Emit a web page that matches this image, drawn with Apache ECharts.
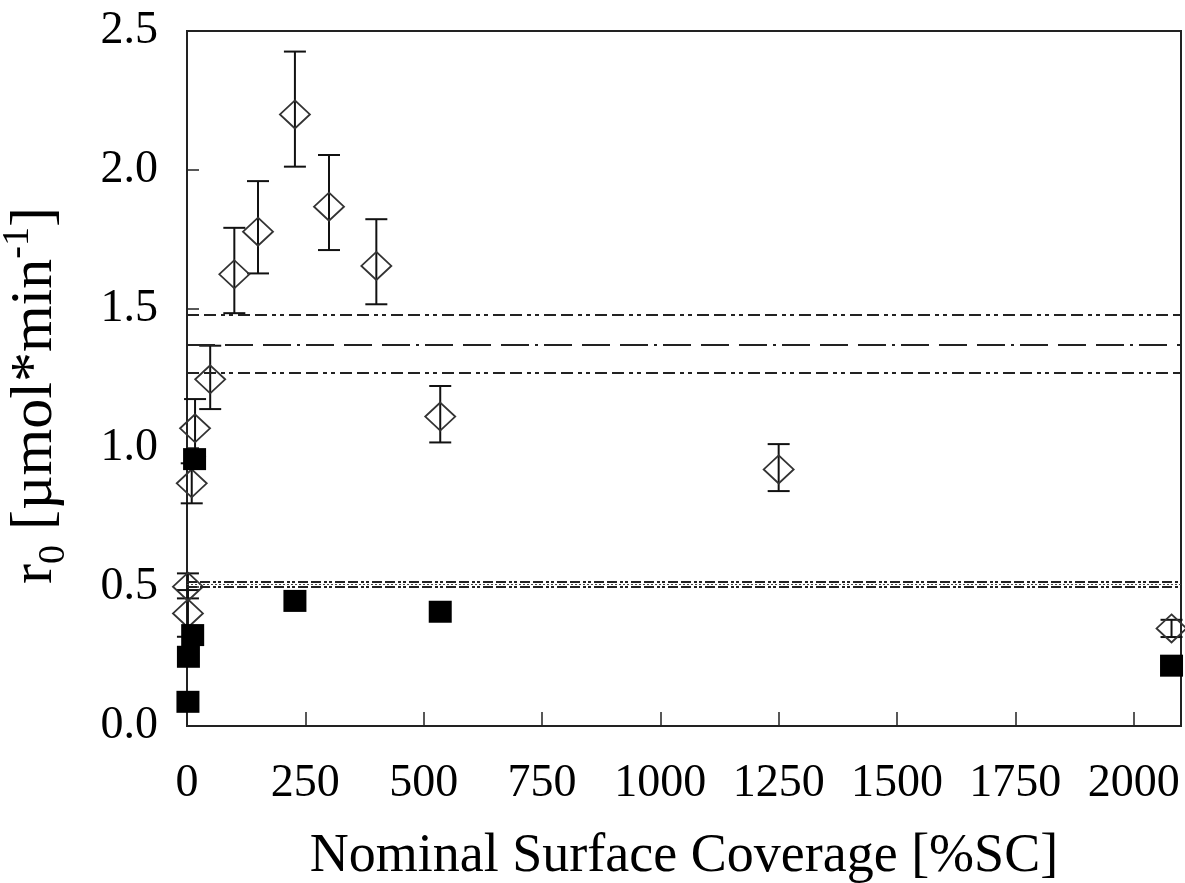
<!DOCTYPE html>
<html>
<head>
<meta charset="utf-8">
<script src="https://cdn.jsdelivr.net/npm/echarts@6/dist/echarts.min.js"></script>
<style>
  html, body { margin: 0; padding: 0; background: #fff; }
  #chart { width: 1185px; height: 883px; }
</style>
</head>
<body>
<div id="chart"></div>
<script>
// ---- data ----
const diamondX = [2, 2, 10, 17, 49, 100, 150, 228, 300, 400, 535, 1250, 2080];
const diamondY = [0.405, 0.501, 0.873, 1.071, 1.247, 1.625, 1.778, 2.200, 1.868, 1.655, 1.113, 0.923, 0.351];
const errLow   = [0.321, 0.459, 0.801, 0.970, 1.140, 1.485, 1.628, 2.012, 1.712, 1.517, 1.020, 0.845, 0.320];
const errHigh  = [0.489, 0.549, 0.945, 1.176, 1.368, 1.792, 1.960, 2.426, 2.054, 1.823, 1.223, 1.014, 0.382];

const squareX = [2, 3, 12, 16, 228, 535, 2080];
const squareY = [0.087, 0.249, 0.327, 0.960, 0.450, 0.411, 0.217];

const upperMean = 1.367, upperHigh = 1.475, upperLow = 1.274;
const lowerMean = 0.512, lowerHigh = 0.523, lowerLow = 0.501;

const xTicks = [0, 250, 500, 750, 1000, 1250, 1500, 1750, 2000];
const yTicks = [0.0, 0.5, 1.0, 1.5, 2.0, 2.5];

const FONT = 'Liberation Serif';

const chart = echarts.init(document.getElementById('chart'), null, {renderer: 'canvas'});

const errData = diamondX.map((x, i) => [x, errLow[i], errHigh[i]]);
const diamondData = diamondX.map((x, i) => [x, diamondY[i]]);
const squareData = squareX.map((x, i) => [x, squareY[i]]);

const dashDot = [12, 5, 12, 5, 4, 4, 4, 5];
const longDash = [28, 10, 28, 10, 28, 6, 3, 6];
const fineOuter = [10, 3, 10, 3, 3, 2, 3, 3];
const fineMid = [2, 2];

chart.setOption({
  animation: false,
  backgroundColor: '#fff',
  grid: {
    left: 187, right: 4, top: 31, bottom: 157,
    outerBoundsMode: 'none', containLabel: false,
    show: true, borderColor: '#222', borderWidth: 2, backgroundColor: 'transparent'
  },
  xAxis: {
    type: 'value', min: 0, max: 2100, interval: 250,
    axisLine: {show: true, onZero: false, lineStyle: {color: '#222', width: 2}},
    axisTick: {show: true, inside: true, length: 14, lineStyle: {color: '#222', width: 1.5}},
    splitLine: {show: false},
    axisLabel: {
      show: true, margin: 35, showMaxLabel: false,
      fontFamily: FONT, fontSize: 46, color: '#000',
      formatter: v => xTicks.indexOf(v) >= 0 ? String(v) : ''
    },
    name: 'Nominal Surface Coverage [%SC]',
    nameLocation: 'middle', nameGap: 104,
    nameTextStyle: {fontFamily: FONT, fontSize: 54, color: '#000'}
  },
  yAxis: {
    type: 'value', min: 0, max: 2.5, interval: 0.5,
    axisLine: {show: true, onZero: false, lineStyle: {color: '#222', width: 2}},
    axisTick: {show: true, inside: true, length: 12, lineStyle: {color: '#222', width: 1.5}},
    splitLine: {show: false},
    axisLabel: {
      show: true, margin: 29,
      fontFamily: FONT, fontSize: 46, color: '#000',
      formatter: v => yTicks.indexOf(v) >= 0 ? v.toFixed(1) : ''
    },
    name: 'r{sub|0} [µmol*min{sup|-1}]',
    nameLocation: 'middle', nameGap: 122, nameRotate: 90,
    nameTextStyle: {
      fontFamily: FONT, fontSize: 60, color: '#000', padding: [0, 0, 0, -34],
      rich: {
        sub: {fontFamily: FONT, fontSize: 38, color: '#000', verticalAlign: 'bottom', padding: [0, 0, -8, 0]},
        sup: {fontFamily: FONT, fontSize: 38, color: '#000', verticalAlign: 'top', padding: [-6, 0, 0, 0]}
      }
    }
  },
  series: [
    {
      type: 'line', data: [], silent: true,
      markLine: {
        silent: true, symbol: 'none', label: {show: false},
        data: [
          {yAxis: upperHigh, lineStyle: {color: '#222', width: 2, type: dashDot}},
          {yAxis: upperMean, lineStyle: {color: '#222', width: 2, type: longDash}},
          {yAxis: upperLow, lineStyle: {color: '#222', width: 2, type: dashDot}},
          {yAxis: lowerHigh, lineStyle: {color: '#222', width: 2, type: fineOuter}},
          {yAxis: lowerMean, lineStyle: {color: '#444', width: 1, type: fineMid}},
          {yAxis: lowerLow, lineStyle: {color: '#222', width: 2, type: fineOuter}}
        ]
      }
    },
    {
      type: 'custom', data: errData, silent: true, clip: false,
      renderItem: function (params, api) {
        const x = api.value(0);
        const pLo = api.coord([x, api.value(1)]);
        const pHi = api.coord([x, api.value(2)]);
        const w = 11;
        const st = {stroke: '#111', lineWidth: 2};
        return {
          type: 'group',
          children: [
            {type: 'line', shape: {x1: pLo[0], y1: pLo[1], x2: pHi[0], y2: pHi[1]}, style: st},
            {type: 'line', shape: {x1: pLo[0] - w, y1: pLo[1], x2: pLo[0] + w, y2: pLo[1]}, style: st},
            {type: 'line', shape: {x1: pHi[0] - w, y1: pHi[1], x2: pHi[0] + w, y2: pHi[1]}, style: st}
          ]
        };
      }
    },
    {
      type: 'scatter', data: diamondData, symbol: 'diamond', symbolSize: [30, 28],
      clip: false, silent: true,
      itemStyle: {color: 'rgba(0,0,0,0)', borderColor: '#333', borderWidth: 1.8, opacity: 1}
    },
    {
      type: 'scatter', data: squareData, symbol: 'rect', symbolSize: [23, 22],
      clip: false, silent: true,
      itemStyle: {color: '#000', opacity: 1}
    }
  ]
});
</script>
</body>
</html>
